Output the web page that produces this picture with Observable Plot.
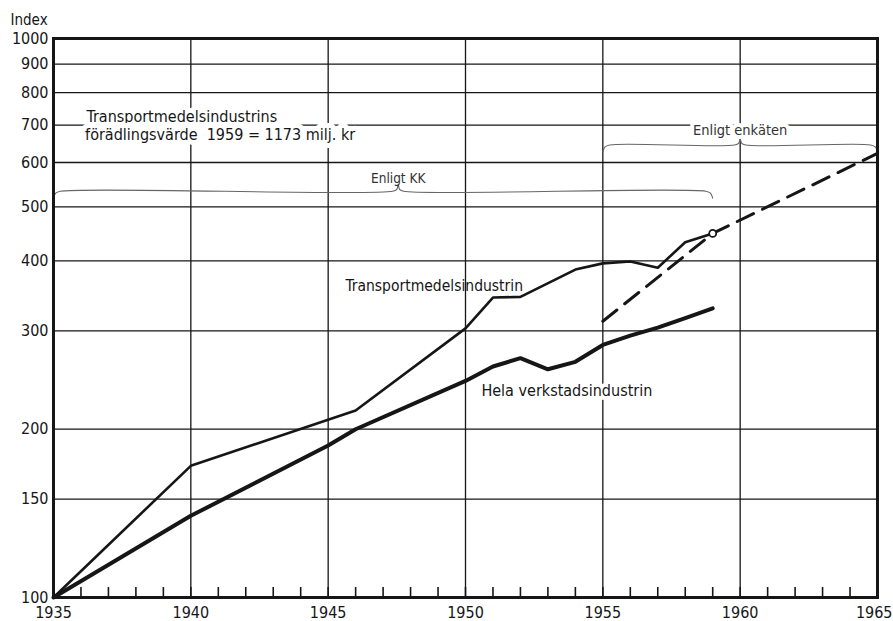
<!DOCTYPE html>
<html><head><meta charset="utf-8">
<script src="https://cdn.jsdelivr.net/npm/d3@7"></script>
<script src="https://cdn.jsdelivr.net/npm/@observablehq/plot@0.6"></script>
<style>body{margin:0;background:#fff;}</style>
</head><body><div id="chart"></div>
<script>
// --- data ---
const transportYears  = [1935, 1940, 1946, 1950, 1951, 1952, 1954, 1955, 1956, 1957, 1958, 1959];
const transportValues = [100, 172, 216, 303, 344, 345, 386, 396, 399, 389, 432, 448];
const helaYears  = [1935, 1940, 1945, 1946, 1950, 1951, 1952, 1953, 1954, 1955, 1956, 1957, 1958, 1959];
const helaValues = [100, 140, 187, 200, 244, 259, 268, 256, 264, 283, 294, 304, 316, 329];
const enkatenYears  = [1955, 1959, 1965];
const enkatenValues = [312, 448, 623];
const markerYear = [1959];
const markerValue = [448];
const yTicks = [100, 150, 200, 300, 400, 500, 600, 700, 800, 900, 1000];
const xLabelTicks = [1935, 1940, 1945, 1950, 1955, 1960];
const xLastTick = [1965];
const yearTicks = d3.range(1936, 1965);
const titleLines = ["Transportmedelsindustrins", "förädlingsvärde  1959 = 1173 milj. kr"];
const seriesLabels = ["Transportmedelsindustrin", "Hela verkstadsindustrin"];
const braceLabels = ["Enligt KK", "Enligt enkäten"];
// brace spans: [from, to, middle, level]
const braceKK = [1935, 1959, 1947.55, 533];
const braceEnk = [1955, 1965, 1960, 645];

const transport = transportYears.map((x, i) => ({x, y: transportValues[i]}));
const hela = helaYears.map((x, i) => ({x, y: helaValues[i]}));
const enkaten = enkatenYears.map((x, i) => ({x, y: enkatenValues[i]}));
const marker = markerYear.map((x, i) => ({x, y: markerValue[i]}));

function bracePts([a, b, m, v]) {
  const drop = 0.972, tip = 1.028;
  return [
    {x: a, y: v * drop}, {x: a + 0.08, y: v * 0.992}, {x: a + 0.25, y: v},
    {x: m - 0.2, y: v}, {x: m - 0.05, y: v * 1.008}, {x: m, y: v * tip},
    {x: m + 0.05, y: v * 1.008}, {x: m + 0.2, y: v},
    {x: b - 0.25, y: v}, {x: b - 0.08, y: v * 0.992}, {x: b, y: v * drop}
  ];
}

const font = "'Liberation Sans Narrow', 'DejaVu Sans Condensed', 'Roboto', sans-serif";
const ink = "#161616";

const chart = Plot.plot({
  width: 893,
  height: 621,
  marginLeft: 53,
  marginRight: 16,
  marginTop: 38,
  marginBottom: 24,
  style: {fontFamily: font, fontSize: "16px", color: ink, background: "#fff"},
  x: {domain: [1935, 1965]},
  y: {type: "log", domain: [100, 1000]},
  marks: [
    Plot.ruleY(yTicks, {stroke: ink, strokeWidth: 1.3}),
    Plot.ruleX(xLabelTicks, {stroke: ink, strokeWidth: 1.3}),
    Plot.ruleX(yearTicks, {stroke: ink, strokeWidth: 1.6, insetTop: 549}),
    Plot.line(bracePts(braceKK), {x: "x", y: "y", stroke: "#666", strokeWidth: 1.1, curve: "catmull-rom"}),
    Plot.line(bracePts(braceEnk), {x: "x", y: "y", stroke: "#666", strokeWidth: 1.1, curve: "catmull-rom"}),
    Plot.text([titleLines[0]], {x: 1936.2, y: 725, text: d => d, textAnchor: "start", fontSize: 16, fill: ink, stroke: "white", strokeWidth: 10, paintOrder: "stroke"}),
    Plot.text([titleLines[1]], {x: 1936.15, y: 673, text: d => d, textAnchor: "start", fontSize: 16, fill: ink, stroke: "white", strokeWidth: 10, paintOrder: "stroke"}),
    Plot.text([braceLabels[0]], {x: braceKK[2], y: 562, text: d => d, fontSize: 13.5, fill: "#333"}),
    Plot.text([braceLabels[1]], {x: braceEnk[2], y: 684, text: d => d, fontSize: 14.5, fill: "#333", stroke: "white", strokeWidth: 8, paintOrder: "stroke"}),
    Plot.text([seriesLabels[0]], {x: 1945.63, y: 361, text: d => d, textAnchor: "start", fontSize: 15.5, fill: ink}),
    Plot.text([seriesLabels[1]], {x: 1950.58, y: 234.7, text: d => d, textAnchor: "start", fontSize: 16, fill: ink, stroke: "white", strokeWidth: 8, paintOrder: "stroke"}),
    Plot.line(hela, {x: "x", y: "y", stroke: ink, strokeWidth: 4, strokeLinejoin: "round"}),
    Plot.line(transport, {x: "x", y: "y", stroke: ink, strokeWidth: 2.6, strokeLinejoin: "round"}),
    Plot.line(enkaten, {x: "x", y: "y", stroke: ink, strokeWidth: 3, strokeDasharray: "18,10"}),
    Plot.dot(marker, {x: "x", y: "y", r: 3.5, fill: "white", stroke: ink, strokeWidth: 1.8}),
    Plot.frame({stroke: ink, strokeWidth: 3}),
    Plot.axisY({ticks: yTicks, tickSize: 0, tickPadding: 5, tickFormat: d => String(d), label: null, fontSize: 16}),
    Plot.axisX({ticks: xLabelTicks, tickSize: 0, tickPadding: 9, tickFormat: d => String(d), label: null, fontSize: 16}),
    Plot.axisX({ticks: xLastTick, tickSize: 0, tickPadding: 9, tickFormat: d => String(d), label: null, fontSize: 16, textAnchor: "end", dx: 15}),
    Plot.text(["Index"], {frameAnchor: "top-left", dx: -43, dy: -24, text: d => d, textAnchor: "start", fontSize: 15, fill: ink})
  ]
});
document.getElementById("chart").appendChild(chart);
</script>
</body></html>
